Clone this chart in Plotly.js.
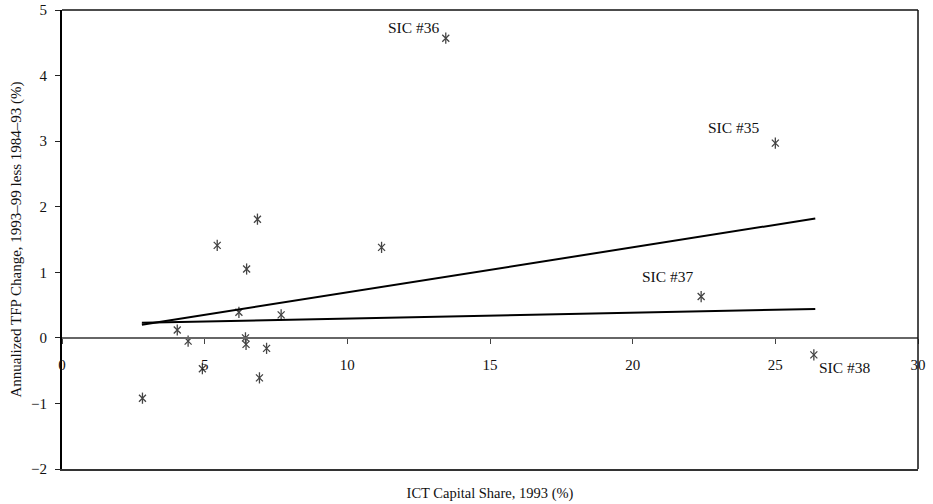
<!DOCTYPE html>
<html>
<head>
<meta charset="utf-8">
<script src="https://cdn.plot.ly/plotly-3.0.1.min.js"></script>
<style>html,body{margin:0;padding:0;background:#fff;}#chart{width:933px;height:504px;}</style>
</head>
<body>
<div id="chart"></div>
<script>
// Industry points: ICT capital share 1993 (%) vs TFP change (%)
const ictShare = [13.45, 25.0, 22.4, 26.35, 6.85, 5.44, 11.2, 6.47, 6.20, 7.68, 4.04, 4.42, 6.43, 6.45, 7.17, 4.92, 6.92, 2.82];
const tfpChange = [4.57, 2.97, 0.63, -0.26, 1.81, 1.41, 1.38, 1.05, 0.39, 0.35, 0.12, -0.05, 0.0, -0.10, -0.16, -0.47, -0.61, -0.92];

// Labelled industries
const labelText = ["SIC #36", "SIC #35", "SIC #37", "SIC #38"];
const labelX = [13.45, 25.0, 22.4, 26.35];
const labelY = [4.57, 2.97, 0.63, -0.26];

// Fitted lines
const fitAX = [2.8, 26.4];
const fitAY = [0.20, 1.82];
const fitBX = [2.8, 26.4];
const fitBY = [0.23, 0.44];

const xTicks = [0, 5, 10, 15, 20, 25, 30];
const yTicks = [-2, -1, 0, 1, 2, 3, 4, 5];

const FONT = "Liberation Serif, Times New Roman, serif";

const traces = [
  {x: ictShare, y: tfpChange, type: 'scatter', mode: 'markers', xaxis: 'x', yaxis: 'y',
   marker: {symbol: 'x-thin-open', size: 7, color: '#444', line: {color: '#444', width: 1.3}}, hoverinfo: 'x+y'},
  {x: ictShare, y: tfpChange, type: 'scatter', mode: 'markers', xaxis: 'x', yaxis: 'y',
   marker: {symbol: 'line-ns-open', size: 8, color: '#444', line: {color: '#444', width: 1.3}}, hoverinfo: 'skip'},
  {x: fitAX, y: fitAY, type: 'scatter', mode: 'lines', xaxis: 'x2', yaxis: 'y',
   line: {color: '#000', width: 2}},
  {x: fitBX, y: fitBY, type: 'scatter', mode: 'lines', xaxis: 'x2', yaxis: 'y',
   line: {color: '#000', width: 2}}
];

const shifts = [[-5, 11, 'right'], [-14, 16, 'right'], [-6, 20, 'right'], [3, -13, 'left']];
const annotations = labelText.map((t, i) => ({
  x: labelX[i], y: labelY[i], xref: 'x', yref: 'y', text: t, showarrow: false,
  xanchor: shifts[i][2], yanchor: 'middle', xshift: shifts[i][0], yshift: shifts[i][1],
  font: {family: FONT, size: 15.5, color: '#111'}
}));

const layout = {
  width: 933, height: 504,
  margin: {l: 62, r: 15, t: 10, b: 35, pad: 0},
  paper_bgcolor: '#fff', plot_bgcolor: '#fff',
  showlegend: false,
  font: {family: FONT, size: 15, color: '#111'},
  xaxis: {
    range: [0, 30], showgrid: false, zeroline: false, showticklabels: false, ticks: '',
    showline: true, linecolor: '#333', linewidth: 2,
    title: {text: 'ICT Capital Share, 1993 (%)', font: {family: FONT, size: 14.5, color: '#111'}, standoff: 18}
  },
  xaxis2: {
    overlaying: 'x', anchor: 'free', position: 2 / 7, range: [0, 30],
    tickmode: 'array', tickvals: xTicks, ticktext: xTicks.map(String),
    showgrid: false, zeroline: false, showline: true, linecolor: '#666', linewidth: 2,
    ticks: 'outside', ticklen: 5, tickcolor: '#444', tickwidth: 1,
    ticklabelstandoff: 8,
    tickfont: {family: FONT, size: 15, color: '#111'}
  },
  yaxis: {
    range: [-2, 5], tickmode: 'array', tickvals: yTicks,
    showgrid: false, zeroline: false, showline: true, linecolor: '#000', linewidth: 2,
    ticks: 'outside', ticklen: 5, tickcolor: '#222',
    ticklabelstandoff: 5,
    tickfont: {family: FONT, size: 15, color: '#111'},
    title: {text: 'Annualized TFP Change, 1993–99 less 1984–93 (%)', font: {family: FONT, size: 15, color: '#111'}, standoff: 6}
  },
  shapes: [
    {type: 'line', xref: 'paper', yref: 'paper', x0: 0, x1: 1, y0: 1, y1: 1, line: {color: '#111', width: 1.5}},
    {type: 'line', xref: 'paper', yref: 'paper', x0: 1, x1: 1, y0: 0, y1: 1, line: {color: '#111', width: 1.5}}
  ],
  annotations: annotations
};

Plotly.newPlot('chart', traces, layout, {displayModeBar: false, staticPlot: true});
</script>
</body>
</html>
